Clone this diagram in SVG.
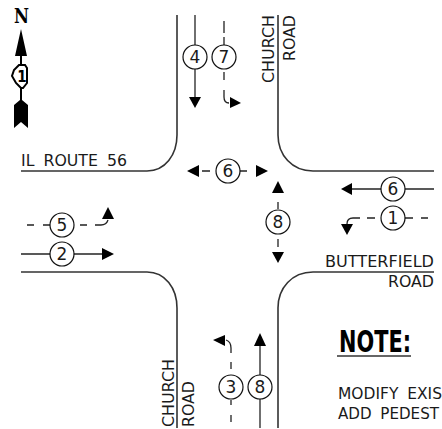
<svg xmlns="http://www.w3.org/2000/svg" width="442" height="429" viewBox="0 0 442 429">
<style>
text{font-family:"DejaVu Sans",sans-serif;fill:#1a1a1a}
.road{fill:none;stroke:#333;stroke-width:1.6}
.m{fill:none;stroke:#222;stroke-width:1.3}
.h{fill:#000}
.c{fill:#fff;stroke:#111;stroke-width:1.2}
.n{font-size:17px;text-anchor:middle}
.l{font-size:15.5px}
.w{word-spacing:4px}
</style>
<rect width="442" height="429" fill="#fff"/>
<g id="roads">
<path class="road" d="M177 15V135C177 155 165 171 147 171H21"/>
<path class="road" d="M278 15V135C278 155 292 171 313 171H434"/>
<path class="road" d="M21 272H147C165 272 177 288 177 308V428"/>
<path class="road" d="M434 272H313C292 272 278 288 278 308V428"/>
</g>
<g id="connectors">
<path class="m" d="M195 15V98"/><path class="h" d="M189 97H201L195 108Z"/>
<path class="m" d="M224 21V33M224 37V45M224 72V80M224 90V97C224 101 226 103 229 103"/><path class="h" d="M230 97L241 103L230 108Z"/>
<path class="m" d="M202 171H210M240 171H247"/>
<path class="h" d="M187 171L199 165V177Z"/><path class="h" d="M268 171L256 165V177Z"/>
<path class="m" d="M278 202V209M278 239V247"/>
<path class="h" d="M278 181L284 193H272Z"/><path class="h" d="M278 263L272 252H284Z"/>
<path class="m" d="M21 254H103"/><path class="h" d="M102 248L114 254L102 260Z"/>
<path class="m" d="M27 225H34M43 225H50M80 225H87M95 225H101C105 225 107 223 108 220"/><path class="h" d="M108 207L114 219H102Z"/>
<path class="m" d="M350 189H434"/><path class="h" d="M341 189L352 183V195Z"/>
<path class="m" d="M428 218H421M413 218H405M375 218H367M360 218H353C349 218 347 220 347 224"/><path class="h" d="M341 224H353L347 235Z"/>
<path class="m" d="M231 422V415M231 405V400M231 369V362M231 353V348C231 344 229 341 226 340"/><path class="h" d="M213 340L225 335V346Z"/>
<path class="m" d="M260 428V345"/><path class="h" d="M260 333L266 346H254Z"/>
</g>
<g id="node-4"><circle class="c" cx="195" cy="57" r="12"/><text class="n" x="195" y="63">4</text></g>
<g id="node-7"><circle class="c" cx="224" cy="57" r="12"/><text class="n" x="224" y="63">7</text></g>
<g id="node-6a"><circle class="c" cx="228" cy="171" r="12"/><text class="n" x="228" y="177">6</text></g>
<g id="node-8a"><circle class="c" cx="278" cy="222" r="12"/><text class="n" x="278" y="228">8</text></g>
<g id="node-5"><circle class="c" cx="62" cy="225" r="12"/><text class="n" x="62" y="231">5</text></g>
<g id="node-2"><circle class="c" cx="62" cy="254" r="12"/><text class="n" x="62" y="260">2</text></g>
<g id="node-6b"><circle class="c" cx="393" cy="189" r="12"/><text class="n" x="393" y="195">6</text></g>
<g id="node-1"><circle class="c" cx="393" cy="218" r="12"/><text class="n" x="393" y="224">1</text></g>
<g id="node-3"><circle class="c" cx="231" cy="387" r="12"/><text class="n" x="231" y="393">3</text></g>
<g id="node-8b"><circle class="c" cx="260" cy="387" r="12"/><text class="n" x="260" y="393">8</text></g>
<g id="labels">
<text class="l w" x="21" y="166" textLength="106" lengthAdjust="spacingAndGlyphs">IL ROUTE 56</text>
<text class="l" transform="translate(274 83) rotate(-90)" textLength="68" lengthAdjust="spacingAndGlyphs">CHURCH</text>
<text class="l" transform="translate(295 61) rotate(-90)" textLength="46" lengthAdjust="spacingAndGlyphs">ROAD</text>
<text class="l" transform="translate(174 427) rotate(-90)" textLength="68" lengthAdjust="spacingAndGlyphs">CHURCH</text>
<text class="l" transform="translate(194 427) rotate(-90)" textLength="46" lengthAdjust="spacingAndGlyphs">ROAD</text>
<text class="l" x="325" y="267" textLength="109" lengthAdjust="spacingAndGlyphs">BUTTERFIELD</text>
<text class="l" x="388" y="287" textLength="46" lengthAdjust="spacingAndGlyphs">ROAD</text>
<text x="339" y="352" style="font-family:'DejaVu Sans Condensed','DejaVu Sans',sans-serif;font-weight:bold;font-size:30px;fill:#000" textLength="72" lengthAdjust="spacingAndGlyphs">NOTE:</text>
<path d="M337 356H411" stroke="#333" stroke-width="1.6"/>
<text class="l w" x="338" y="399" textLength="104" lengthAdjust="spacingAndGlyphs">MODIFY EXIS</text>
<text class="l w" x="338" y="419" textLength="101" lengthAdjust="spacingAndGlyphs">ADD PEDEST</text>
</g>
<g id="north-arrow">
<text x="14" y="23" style="font-family:'DejaVu Serif',serif;font-weight:bold;font-size:21px;fill:#000" textLength="15" lengthAdjust="spacingAndGlyphs">N</text>
<path d="M21 29L27 56H22V65H20V56H15Z" fill="#000"/>
<path d="M19 65H25L27 68V83L23 88H21L16 83L12 76L14 70Z" fill="#fff" stroke="#000" stroke-width="2"/>
<text x="22" y="82" text-anchor="middle" style="font-family:'DejaVu Sans Condensed','DejaVu Sans',sans-serif;font-weight:bold;font-size:15px;fill:#000">1</text>
<path d="M20 88H22V100L28 105V128L21 122L14 128V105L20 100Z" fill="#000"/>
</g>
</svg>
